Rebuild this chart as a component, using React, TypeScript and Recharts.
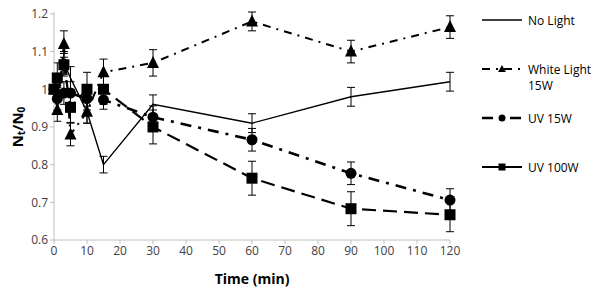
import React from 'react';
import { LineChart, Line, XAxis, YAxis, ErrorBar } from 'recharts';

const times = [0, 1, 3, 5, 10, 15, 30, 60, 90, 120];
const noLight = [1.0, 0.99, 1.07, 1.03, 0.94, 0.8, 0.96, 0.91, 0.98, 1.02];
const noLightErr = [0, 0.02, 0.03, 0.03, 0.03, 0.022, 0.025, 0.025, 0.025, 0.025];
const whiteLight = [1.0, 0.945, 1.12, 0.88, 0.94, 1.045, 1.07, 1.18, 1.1, 1.165];
const whiteLightErr = [0, 0.03, 0.035, 0.03, 0.03, 0.035, 0.035, 0.025, 0.03, 0.03];
const uv15 = [1.0, 0.975, 0.99, 0.99, 0.975, 0.972, 0.926, 0.866, 0.777, 0.706];
const uv15Err = [0, 0.03, 0.03, 0.03, 0.03, 0.025, 0.03, 0.03, 0.03, 0.03];
const uv100 = [1.0, 1.03, 1.065, 0.952, 1.0, 1.0, 0.9, 0.764, 0.683, 0.667];
const uv100Err = [0, 0.04, 0.03, 0.04, 0.045, 0.04, 0.045, 0.045, 0.045, 0.045];

const xTicks = [0, 10, 20, 30, 40, 50, 60, 70, 80, 90, 100, 110, 120];
const yTicks = [0.6, 0.7, 0.8, 0.9, 1.0, 1.1, 1.2];

const legendItems = ['No Light', 'White Light 15W', 'UV 15W', 'UV 100W'];

const data = times.map((t, i) => ({
  t,
  noLight: noLight[i],
  noLightErr: noLightErr[i],
  whiteLight: whiteLight[i],
  whiteLightErr: whiteLightErr[i],
  uv15: uv15[i],
  uv15Err: uv15Err[i],
  uv100: uv100[i],
  uv100Err: uv100Err[i],
}));

const FONT = '"Open Sans", "Liberation Sans", sans-serif';

const Triangle = (props: any) => {
  const { cx, cy, index } = props;
  if (cx == null || cy == null) return <g key={index} />;
  const s = 6;
  return <path key={index} d={`M${cx},${cy - s - 1}L${cx + s},${cy + s - 1}L${cx - s},${cy + s - 1}Z`} fill="#000" />;
};
const Circle = (props: any) => {
  const { cx, cy, index } = props;
  if (cx == null || cy == null) return <g key={index} />;
  return <circle key={index} cx={cx} cy={cy} r={5.5} fill="#000" />;
};
const Square = (props: any) => {
  const { cx, cy, index } = props;
  if (cx == null || cy == null) return <g key={index} />;
  return <rect key={index} x={cx - 5.5} y={cy - 5.5} width={11} height={11} fill="#000" />;
};

const YLabel = () => (
  <text
    x={17}
    y={127}
    transform="rotate(-90 17 127)"
    textAnchor="middle"
    dominantBaseline="central"
    fontFamily={FONT}
    fontWeight="bold"
    fontSize={15}
    fill="#000"
  >
    N<tspan fontSize={10} dy={4}>t</tspan>
    <tspan dy={-4}>/N</tspan>
    <tspan fontSize={10} dy={4}>0</tspan>
  </text>
);

export default function App() {
  return (
    <div style={{ position: 'absolute', left: 0, top: 0, width: 594, height: 292, background: '#fff' }}>
      <LineChart width={594} height={292} data={data} margin={{ top: 12, right: 144, bottom: 0, left: 0 }}>
        <XAxis
          dataKey="t"
          type="number"
          domain={[0, 120]}
          ticks={xTicks}
          interval={0}
          height={52}
          stroke="#bfbfbf"
          tickSize={4}
          tick={{ fill: '#404040', fontSize: 12, fontFamily: FONT }}
          label={{
            value: 'Time (min)',
            position: 'insideBottom',
            offset: 8,
            style: { fill: '#000', fontSize: 14, fontWeight: 'bold', fontFamily: FONT },
          }}
        />
        <YAxis
          type="number"
          domain={[0.6, 1.2]}
          ticks={yTicks}
          interval={0}
          width={54}
          stroke="#bfbfbf"
          tickSize={4}
          tickFormatter={(v: number) => String(Number(v.toFixed(1)))}
          tick={{ fill: '#404040', fontSize: 12, fontFamily: FONT }}
          label={<YLabel />}
        />
        <Line
          dataKey="noLight"
          stroke="#000"
          strokeWidth={1.4}
          dot={false}
          isAnimationActive={false}
        >
          <ErrorBar dataKey="noLightErr" width={4} stroke="#000" strokeWidth={1} direction="y" />
        </Line>
        <Line
          dataKey="whiteLight"
          stroke="#000"
          strokeWidth={2}
          strokeDasharray="8 6 2 6"
          dot={Triangle}
          isAnimationActive={false}
        >
          <ErrorBar dataKey="whiteLightErr" width={4} stroke="#000" strokeWidth={1} direction="y" />
        </Line>
        <Line
          dataKey="uv15"
          stroke="#000"
          strokeWidth={2.6}
          strokeDasharray="11 7 3 7"
          dot={Circle}
          isAnimationActive={false}
        >
          <ErrorBar dataKey="uv15Err" width={4} stroke="#000" strokeWidth={1} direction="y" />
        </Line>
        <Line
          dataKey="uv100"
          stroke="#000"
          strokeWidth={2.2}
          strokeDasharray="14 7"
          dot={Square}
          isAnimationActive={false}
        >
          <ErrorBar dataKey="uv100Err" width={4} stroke="#000" strokeWidth={1} direction="y" />
        </Line>
      </LineChart>
      <svg
        width={120}
        height={200}
        style={{ position: 'absolute', left: 474, top: 0 }}
        fontFamily={FONT}
        fontSize={12}
      >
        <line x1={8} x2={48} y1={20} y2={20} stroke="#000" strokeWidth={1.4} />
        <text x={54} y={20} dominantBaseline="central" fill="#000">{legendItems[0]}</text>

        <line x1={8} x2={48} y1={69} y2={69} stroke="#000" strokeWidth={2} strokeDasharray="8 6 2 6" />
        <path d="M28,65L32,72L24,72Z" fill="#000" />
        <text x={54} y={69} dominantBaseline="central" fill="#000">White Light</text>
        <text x={54} y={85} dominantBaseline="central" fill="#000">15W</text>

        <line x1={8} x2={48} y1={118} y2={118} stroke="#000" strokeWidth={2.6} strokeDasharray="11 7 3 7" />
        <circle cx={28} cy={118} r={3.5} fill="#000" />
        <text x={54} y={118} dominantBaseline="central" fill="#000">{legendItems[2]}</text>

        <line x1={8} x2={48} y1={167} y2={167} stroke="#000" strokeWidth={2.2} />
        <rect x={24.5} y={163.5} width={7} height={7} fill="#000" />
        <text x={54} y={167} dominantBaseline="central" fill="#000">{legendItems[3]}</text>
      </svg>
    </div>
  );
}
